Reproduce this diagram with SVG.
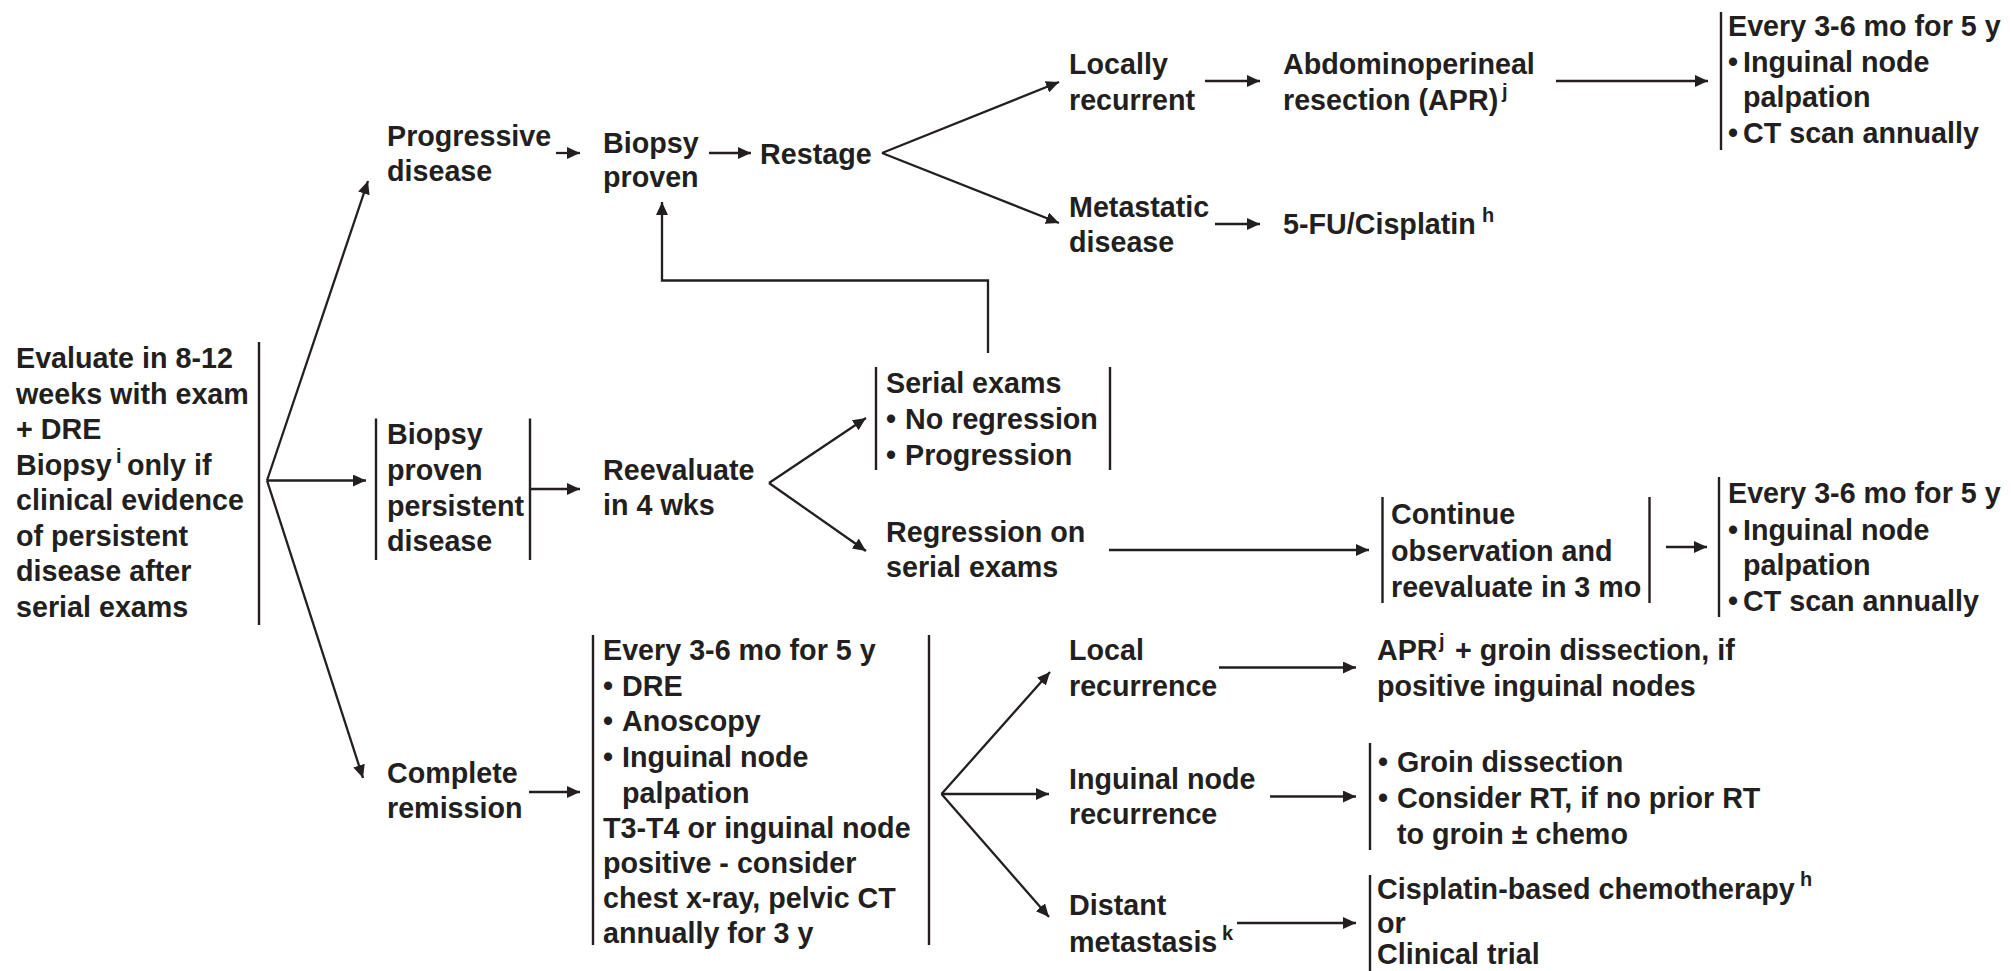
<svg xmlns="http://www.w3.org/2000/svg" width="2011" height="971" viewBox="0 0 2011 971">
<defs>
<style>
text{font-family:"Liberation Sans",Arial,Helvetica,sans-serif;font-weight:bold;font-size:28.7px;fill:#231f20}
.sup{font-size:20px}
.bar{stroke:#231f20;stroke-width:2.4;fill:none}
.con{stroke:#231f20;stroke-width:2.3;fill:none;marker-end:url(#ah)}
</style>
<marker id="ah" markerUnits="userSpaceOnUse" markerWidth="14" markerHeight="12" refX="13" refY="6" orient="auto">
<path d="M0,0 L13,6 L0,12 z" fill="#231f20"/>
</marker>
</defs>
<rect width="2011" height="971" fill="#ffffff"/>

<g id="connectors">
<line class="con" x1="267" y1="480.5" x2="368" y2="181"/>
<line class="con" x1="267" y1="480.5" x2="366" y2="480.5"/>
<line class="con" x1="267" y1="480.5" x2="363" y2="778"/>
<line class="con" x1="556" y1="153" x2="580" y2="153"/>
<line class="con" x1="709" y1="153" x2="751" y2="153"/>
<line class="con" x1="882" y1="153" x2="1059" y2="82"/>
<line class="con" x1="882" y1="153" x2="1059" y2="223"/>
<line class="con" x1="1205" y1="81" x2="1260" y2="81"/>
<line class="con" x1="1556" y1="81" x2="1708" y2="81"/>
<line class="con" x1="1215" y1="224" x2="1260" y2="224"/>
<polyline class="con" points="988,353 988,280.5 662,280.5 662,202"/>
<line class="con" x1="530" y1="489" x2="580" y2="489"/>
<line class="con" x1="769" y1="483" x2="866" y2="418"/>
<line class="con" x1="769" y1="483" x2="866" y2="551"/>
<line class="con" x1="1109" y1="550" x2="1369" y2="550"/>
<line class="con" x1="1666" y1="547" x2="1707" y2="547"/>
<line class="con" x1="529" y1="792" x2="580" y2="792"/>
<line class="con" x1="941.5" y1="794" x2="1050" y2="672"/>
<line class="con" x1="941.5" y1="794" x2="1049" y2="794"/>
<line class="con" x1="941.5" y1="794" x2="1049" y2="917"/>
<line class="con" x1="1219" y1="667.5" x2="1356" y2="667.5"/>
<line class="con" x1="1270" y1="796.5" x2="1356" y2="796.5"/>
<line class="con" x1="1237" y1="923" x2="1356" y2="923"/>
</g>

<g id="evaluate">
<line class="bar" x1="259" y1="342" x2="259" y2="625"/>
<text x="16" y="368">Evaluate in 8-12</text>
<text x="16" y="403.5">weeks with exam</text>
<text x="16" y="439">+ DRE</text>
<text x="16" y="474.5">Biopsy<tspan class="sup" x="116" y="463">i</tspan><tspan x="127" y="474.5">only if</tspan></text>
<text x="16" y="510">clinical evidence</text>
<text x="16" y="545.5">of persistent</text>
<text x="16" y="581">disease after</text>
<text x="16" y="616.5">serial exams</text>
</g>

<g id="progressive">
<text x="387" y="146">Progressive</text>
<text x="387" y="181">disease</text>
</g>

<g id="biopsy-proven">
<text x="603" y="152.5">Biopsy</text>
<text x="603" y="187">proven</text>
</g>

<g id="restage">
<text x="760" y="164">Restage</text>
</g>

<g id="locally-recurrent">
<text x="1069" y="73.5">Locally</text>
<text x="1069" y="109.5">recurrent</text>
</g>

<g id="apr">
<text x="1283" y="73.5">Abdominoperineal</text>
<text x="1283" y="109.5">resection (APR)<tspan class="sup" x="1502" y="98">j</tspan></text>
</g>

<g id="followup-top">
<line class="bar" x1="1721" y1="12" x2="1721" y2="150"/>
<text x="1728" y="35.5">Every 3-6 mo for 5 y</text>
<text x="1728" y="71.5">•<tspan x="1743">Inguinal node</tspan></text>
<text x="1743" y="107">palpation</text>
<text x="1728" y="142.5">•<tspan x="1743">CT scan annually</tspan></text>
</g>

<g id="metastatic">
<text x="1069" y="216.5">Metastatic</text>
<text x="1069" y="252">disease</text>
</g>

<g id="fu-cisplatin">
<text x="1283" y="233.5">5-FU/Cisplatin<tspan class="sup" x="1482" y="222">h</tspan></text>
</g>

<g id="biopsy-persistent">
<line class="bar" x1="376" y1="418.5" x2="376" y2="560"/>
<line class="bar" x1="530" y1="418.5" x2="530" y2="560"/>
<text x="387" y="444">Biopsy</text>
<text x="387" y="480">proven</text>
<text x="387" y="516">persistent</text>
<text x="387" y="551">disease</text>
</g>

<g id="reevaluate">
<text x="603" y="480">Reevaluate</text>
<text x="603" y="515">in 4 wks</text>
</g>

<g id="serial-exams">
<line class="bar" x1="876" y1="367" x2="876" y2="470"/>
<line class="bar" x1="1110" y1="367" x2="1110" y2="470"/>
<text x="886" y="393">Serial exams</text>
<text x="886" y="429">•<tspan x="905">No regression</tspan></text>
<text x="886" y="465">•<tspan x="905">Progression</tspan></text>
</g>

<g id="regression">
<text x="886" y="542">Regression on</text>
<text x="886" y="577">serial exams</text>
</g>

<g id="continue-observation">
<line class="bar" x1="1382.5" y1="497" x2="1382.5" y2="603"/>
<line class="bar" x1="1649.5" y1="497" x2="1649.5" y2="603"/>
<text x="1391" y="524">Continue</text>
<text x="1391" y="561">observation and</text>
<text x="1391" y="597">reevaluate in 3 mo</text>
</g>

<g id="followup-mid">
<line class="bar" x1="1719" y1="477" x2="1719" y2="617"/>
<text x="1728" y="503">Every 3-6 mo for 5 y</text>
<text x="1728" y="539.5">•<tspan x="1743">Inguinal node</tspan></text>
<text x="1743" y="575">palpation</text>
<text x="1728" y="610.5">•<tspan x="1743">CT scan annually</tspan></text>
</g>

<g id="complete-remission">
<text x="387" y="783">Complete</text>
<text x="387" y="818">remission</text>
</g>

<g id="followup-cr">
<line class="bar" x1="593" y1="635" x2="593" y2="945"/>
<line class="bar" x1="929" y1="635" x2="929" y2="945"/>
<text x="603" y="660">Every 3-6 mo for 5 y</text>
<text x="603" y="696">•<tspan x="622">DRE</tspan></text>
<text x="603" y="731">•<tspan x="622">Anoscopy</tspan></text>
<text x="603" y="767">•<tspan x="622">Inguinal node</tspan></text>
<text x="622" y="802.5">palpation</text>
<text x="603" y="837.5">T3-T4 or inguinal node</text>
<text x="603" y="873">positive - consider</text>
<text x="603" y="908">chest x-ray, pelvic CT</text>
<text x="603" y="943">annually for 3 y</text>
</g>

<g id="local-recurrence">
<text x="1069" y="660">Local</text>
<text x="1069" y="696">recurrence</text>
</g>

<g id="apr-groin">
<text x="1377" y="660">APR<tspan class="sup" x="1439" y="648">j</tspan><tspan x="1455" y="660">+ groin dissection, if</tspan></text>
<text x="1377" y="696">positive inguinal nodes</text>
</g>

<g id="inguinal-recurrence">
<text x="1069" y="788.5">Inguinal node</text>
<text x="1069" y="823.5">recurrence</text>
</g>

<g id="groin-box">
<line class="bar" x1="1370" y1="743" x2="1370" y2="850"/>
<text x="1378" y="771.5">•<tspan x="1397">Groin dissection</tspan></text>
<text x="1378" y="808">•<tspan x="1397">Consider RT, if no prior RT</tspan></text>
<text x="1397" y="843.5">to groin ± chemo</text>
</g>

<g id="distant-metastasis">
<text x="1069" y="915">Distant</text>
<text x="1069" y="951.5">metastasis<tspan class="sup" x="1222" y="940">k</tspan></text>
</g>

<g id="cisplatin-chemo">
<line class="bar" x1="1370" y1="875" x2="1370" y2="971"/>
<text x="1377" y="898.5">Cisplatin-based chemotherapy<tspan class="sup" x="1800" y="886">h</tspan></text>
<text x="1377" y="933">or</text>
<text x="1377" y="964">Clinical trial</text>
</g>
</svg>
